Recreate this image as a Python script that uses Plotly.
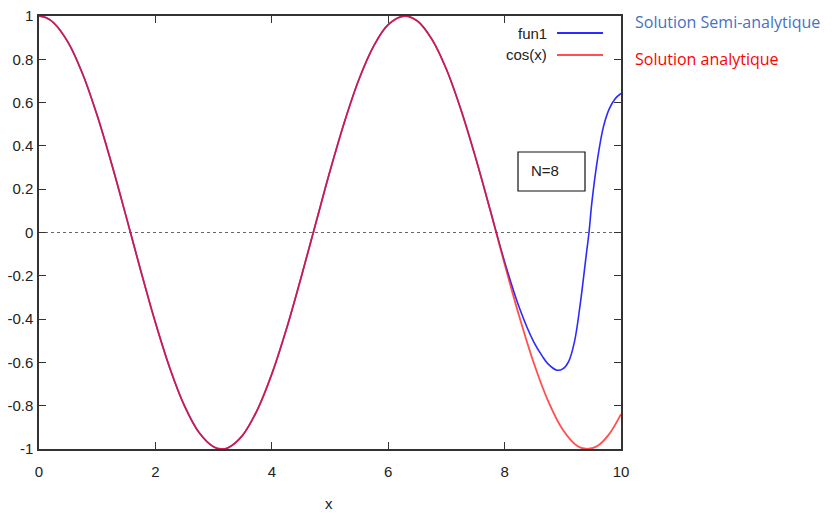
import plotly.graph_objects as go

# Analytic solution cos(x)
x_cos = [0, 0.125, 0.25, 0.5, 0.75, 1, 1.25, 1.5, 1.75, 2, 2.25, 2.5, 2.75, 3, 3.14, 3.25, 3.5, 3.75,
         4, 4.25, 4.5, 4.75, 5, 5.25, 5.5, 5.75, 6, 6.28, 6.5, 6.75, 7, 7.25, 7.5, 7.75,
         8, 8.25, 8.5, 8.75, 9, 9.25, 9.42, 9.6, 9.8, 10]
y_cos = [1.0, 0.992, 0.969, 0.878, 0.732, 0.540, 0.315, 0.071, -0.178, -0.416, -0.628, -0.801,
         -0.924, -0.990, -1.0, -0.994, -0.936, -0.820, -0.654, -0.447, -0.211, 0.037, 0.284,
         0.512, 0.709, 0.861, 0.960, 1.000, 0.977, 0.893, 0.754, 0.567, 0.347, 0.106,
         -0.146, -0.386, -0.602, -0.780, -0.911, -0.986, -1.0, -0.985, -0.930, -0.839]

# Semi-analytic solution fun1
x_fun1 = [0, 0.125, 0.25, 0.5, 0.75, 1, 1.25, 1.5, 1.75, 2, 2.25, 2.5, 2.75, 3, 3.14, 3.25, 3.5, 3.75,
          4, 4.25, 4.5, 4.75, 5, 5.25, 5.5, 5.75, 6, 6.28, 6.5, 6.75, 7, 7.25, 7.5, 7.75,
          8, 8.25, 8.5, 8.65, 8.75, 8.9, 9.0, 9.1, 9.2, 9.3, 9.4, 9.45, 9.5, 9.6, 9.7,
          9.8, 9.9, 10]
y_fun1 = [1.0, 0.992, 0.969, 0.878, 0.732, 0.540, 0.315, 0.071, -0.178, -0.416, -0.628, -0.801,
          -0.924, -0.990, -1.0, -0.994, -0.936, -0.820, -0.654, -0.447, -0.211, 0.037, 0.284,
          0.512, 0.709, 0.861, 0.960, 1.000, 0.977, 0.893, 0.754, 0.567, 0.347, 0.106,
          -0.135, -0.345, -0.505, -0.572, -0.608, -0.636, -0.630, -0.596, -0.505, -0.330,
          -0.110, 0.0, 0.140, 0.345, 0.490, 0.572, 0.618, 0.642]

x_ticks = [0, 2, 4, 6, 8, 10]
y_ticks = [-1, -0.8, -0.6, -0.4, -0.2, 0, 0.2, 0.4, 0.6, 0.8, 1]
y_tick_text = ["-1", "-0.8", "-0.6", "-0.4", "-0.2", "0", "0.2", "0.4", "0.6", "0.8", "1"]

BLUE = "rgba(20,20,255,0.9)"
RED = "rgba(255,20,20,0.75)"

fig = go.Figure()
fig.add_trace(go.Scatter(x=x_fun1, y=y_fun1, mode="lines", name="fun1",
                         line=dict(color=BLUE, width=1.6, shape="spline", smoothing=1.0)))
fig.add_trace(go.Scatter(x=x_cos, y=y_cos, mode="lines", name="cos(x)",
                         line=dict(color=RED, width=1.8, shape="spline", smoothing=1.0)))

font = dict(family="Liberation Sans, Arial, sans-serif", size=15, color="#222222")
axis_common = dict(showgrid=False, zeroline=False, showline=True, linecolor="#333333",
                   linewidth=1.5, mirror="ticks", ticks="inside", ticklen=7,
                   tickcolor="#333333", tickwidth=1.2, tickfont=font, automargin=False,
                   ticklabeloverflow="allow")

# page offset (body margin) compensation
OFF = 8
# target plot area on screen: x 39..621, y 16..449
L = 39 - OFF
T = 16 - OFF
R = 832 - (621 - OFF)
B = 523 - (449 - OFF)
PW, PH = 832 - L - R, 523 - T - B

def px(xp):
    return (xp - OFF - L) / PW

def py(yp):
    return (523 - B - (yp - OFF)) / PH

fig.update_layout(
    width=832, height=523,
    margin=dict(l=L, r=R, t=T, b=B),
    paper_bgcolor="white", plot_bgcolor="white",
    showlegend=False,
    xaxis=dict(range=[0, 10], tickvals=x_ticks, ticktext=[str(v) for v in x_ticks],
               ticklabelstandoff=8, **axis_common),
    yaxis=dict(range=[-1, 1], tickvals=y_ticks, ticktext=y_tick_text,
               ticklabelstandoff=1, **axis_common),
)

# x axis title
fig.add_annotation(xref="paper", yref="paper", x=px(329), y=py(503), text="x",
                   showarrow=False, xanchor="center", yanchor="middle", font=font)

# dotted zero line
fig.add_shape(type="line", xref="x", yref="y", x0=0, x1=10, y0=0, y1=0,
              line=dict(color="#666666", width=1, dash="dot"), layer="below")

# legend drawn inside plot (gnuplot style): text right-aligned, sample line after
legend_items = [("fun1", BLUE, 33), ("cos(x)", RED, 55)]
for label, col, ypix in legend_items:
    fig.add_annotation(xref="paper", yref="paper", x=px(549), y=py(ypix),
                       text=label, showarrow=False, xanchor="right", yanchor="middle",
                       font=font)
    fig.add_shape(type="line", xref="paper", yref="paper",
                  x0=px(557), x1=px(603), y0=py(ypix), y1=py(ypix),
                  line=dict(color=col, width=1.8))

# N=8 box
fig.add_shape(type="rect", xref="paper", yref="paper",
              x0=px(518), x1=px(585), y0=py(191), y1=py(152),
              line=dict(color="#111111", width=1.2), fillcolor="white")
fig.add_annotation(xref="paper", yref="paper", x=px(545), y=py(171),
                   text="N=8", showarrow=False, xanchor="center", yanchor="middle",
                   font=font)

# outside labels
side_font = dict(family="Open Sans, Liberation Sans, sans-serif", size=16)
fig.add_annotation(xref="paper", yref="paper", x=px(633), y=py(22),
                   text="Solution Semi-analytique", showarrow=False, xanchor="left",
                   yanchor="middle", font=dict(color="#4472C4", **side_font))
fig.add_annotation(xref="paper", yref="paper", x=px(633), y=py(59),
                   text="Solution analytique", showarrow=False, xanchor="left",
                   yanchor="middle", font=dict(color="#FF0000", **side_font))

fig.write_html("out.html")
